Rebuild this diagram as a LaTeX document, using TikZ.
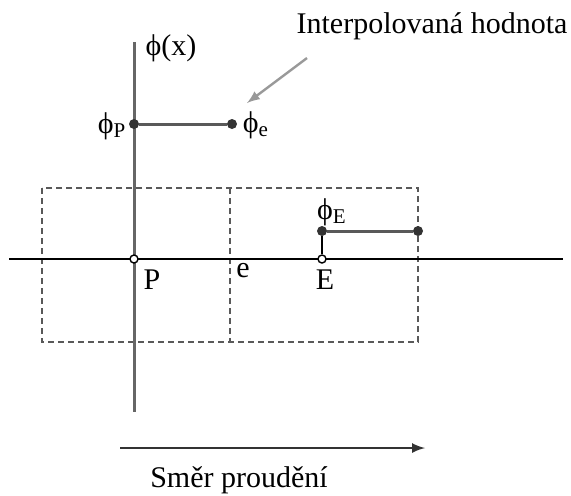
\documentclass[tikz,border=0pt]{standalone}
\usepackage{fontspec}
\setmainfont{Liberation Serif}
\usetikzlibrary{positioning}
\usepackage{xcolor}

\begin{document}
\begin{tikzpicture}[
    x=0.5pt, y=-0.5pt,
    lbl/.style={
        inner sep=0pt,
        font=\fontsize{15}{18}\selectfont
    },
    axisline/.style={
        draw=black!60,
        line width=1.5pt
    },
    valueline/.style={
        draw=black!65,
        line width=1.5pt
    },
    cellbox/.style={
        draw=black!65,
        line width=1.1pt,
        dash pattern=on 3pt off 2pt
    },
    dotpt/.style={
        circle,
        fill=black!80,
        inner sep=0pt,
        minimum size=5pt
    },
    nodept/.style={
        circle,
        draw=black,
        fill=white,
        line width=0.7pt,
        inner sep=0pt,
        minimum size=4pt
    }
]
\useasboundingbox (0,0) rectangle (571,495);

% control volumes
\coordinate (boxtl) at (42,188);
\coordinate (boxbr) at (418,342);
\draw[cellbox] (boxtl) rectangle (boxbr);
\coordinate (facetop) at (230,188);
\coordinate (facebot) at (230,342);
\draw[cellbox] (facetop) -- (facebot);

% axes
\coordinate (xleft) at (9,259);
\coordinate (xright) at (563,259);
\coordinate (ytop) at (134,42);
\coordinate (ybot) at (134,412);
\draw[axisline] (ytop) -- (ybot);
\draw[black, line width=0.8pt] (xleft) -- (xright);

% values
\node[dotpt] (phiP) at (134,124) {};
\node[dotpt] (phie) at (232,124) {};
\node[dotpt] (phiE) at (322,231) {};
\node[dotpt] (phiR) at (418,231) {};
\node[nodept] (P) at (134,259) {};
\node[nodept] (E) at (322,259) {};

\draw[valueline] (phiP) -- (phie);
\draw[valueline] (phiE) -- (phiR);
\draw[black, line width=0.8pt] (phiE) -- (E);

% labels
\node[lbl] (phix) at (171,48) {ϕ(x)};
\node[lbl] (labP) at (112,126) {ϕ\textsubscript{P}};
\node[lbl] (labe) at (256,125) {ϕ\textsubscript{e}};
\node[lbl] (labE) at (332,212) {ϕ\textsubscript{E}};
\node[lbl] (txtP) at (152,280) {P};
\node[lbl] (txte) at (243,271) {e};
\node[lbl] (txtE) at (325,280) {E};

\node[lbl] (interp) at (432,26) {Interpolovaná hodnota};
\coordinate (interparr) at (307,58);
\coordinate (interptip) at (247,103);
\draw[-latex, black!40, line width=1.2pt] (interparr) -- (interptip);

% flow direction
\coordinate (flowstart) at (120,448);
\coordinate (flowend) at (425,448);
\draw[-latex, black!80, line width=1.2pt] (flowstart) -- (flowend);
\node[lbl] (flow) at (239,480) {Směr proudění};

\end{tikzpicture}
\end{document}
